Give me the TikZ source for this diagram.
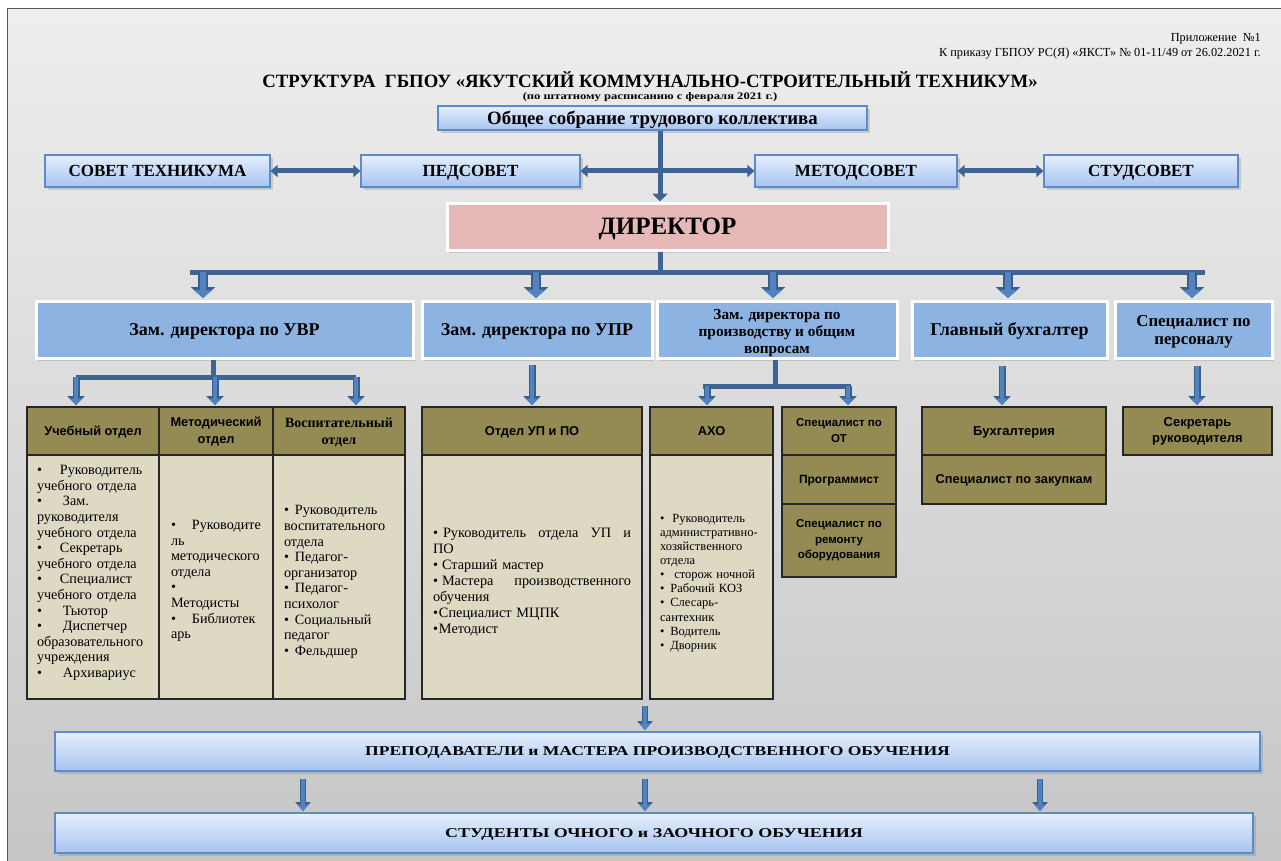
\documentclass[tikz,border=0pt]{standalone}
\usepackage{fontspec}
\setmainfont{Liberation Serif}
\setsansfont{Liberation Sans}
\usetikzlibrary{arrows.meta,shadows,calc}
\newcommand\fz[2]{\fontsize{#1}{#2}\selectfont}
\definecolor{bgtop}{HTML}{EEEEEE}
\definecolor{bgbot}{HTML}{C6C6C6}
\definecolor{arrowc}{HTML}{38608F}
\definecolor{arrowin}{HTML}{5283C0}
\definecolor{busc}{HTML}{3D6494}
\definecolor{lbtop}{HTML}{E6EFFC}
\definecolor{lbbot}{HTML}{A6C4F0}
\definecolor{lbline}{HTML}{5B8BC8}
\definecolor{zamc}{HTML}{8DB3E2}
\definecolor{dirc}{HTML}{E6B8B7}
\definecolor{olive}{HTML}{948A54}
\definecolor{beige}{HTML}{DDD9C3}
\tikzset{
  cc/.style 2 args={text height=#1, text depth=#2},
  lbox/.style={draw=lbline, line width=1.2pt, top color=lbtop, bottom color=lbbot,
    inner sep=0pt, align=center, font=\bfseries\fz{17}{20}, cc={13.6pt}{2.4pt},
    drop shadow={shadow xshift=2.5pt, shadow yshift=-3pt, opacity=.3}},
  zam/.style={draw=white, line width=3pt, fill=zamc, inner sep=0pt, align=center,
    minimum height=57pt, font=\bfseries\fz{18}{20},
    drop shadow={shadow xshift=2pt, shadow yshift=-3pt, opacity=.3}},
  dirbox/.style={draw=white, line width=3pt, fill=dirc, inner sep=0pt, align=center,
    font=\bfseries\fz{25}{28}, cc={20pt}{3.5pt},
    drop shadow={shadow xshift=2pt, shadow yshift=-3pt, opacity=.3}},
  ohead/.style={draw=black!85, line width=1.3pt, fill=olive, inner sep=0pt, align=center,
    font=\sffamily\bfseries\fz{12.8}{17}},
  obody/.style={draw=black!85, line width=1.3pt, fill=beige, inner sep=0pt,
    minimum height=244pt},
  btext/.style={inner sep=0pt, align=left, font=\fz{14.2}{15.6}},
  bus/.style={draw=busc, line width=5pt},
  blk/.style={preaction={draw=arrowc, line width=10pt, -{Triangle[width=24pt,length=11pt]}},
    draw=arrowin, line width=6pt, shorten >=1.5pt, -{Triangle[width=18pt,length=8pt]}},
  blks/.style={preaction={draw=arrowc, line width=7pt, -{Triangle[width=17pt,length=9pt]}},
    draw=arrowin, line width=3.8pt, shorten >=1.3pt, -{Triangle[width=12pt,length=6.5pt]}},
  blkt/.style={preaction={draw=arrowc, line width=6pt, -{Triangle[width=15pt,length=9pt]}},
    draw=arrowin, line width=3.2pt, shorten >=1.3pt, -{Triangle[width=10.5pt,length=6.5pt]}},
  dbl/.style={draw=busc, line width=5pt,
    {Triangle[width=12pt,length=7pt]}-{Triangle[width=12pt,length=7pt]}},
}
\begin{document}
\begin{tikzpicture}[x=1pt,y=-1pt]
\useasboundingbox (0,0) rectangle (1281,861);
\fill[white] (0,0) rectangle (1281,861);
\shade[top color=bgtop, bottom color=bgbot] (7,9) rectangle (1281,861);
\draw[black!65, line width=1pt] (7,861) -- (7,9) -- (1281,9);

% header texts
\node[anchor=east, align=right, inner sep=0pt, font=\fz{12.3}{15}] (app) at (1261,46)
  {Приложение \ №1\\К приказу ГБПОУ РС(Я) «ЯКСТ» № 01-11/49 от 26.02.2021 г.};
\node[inner sep=0pt, font=\bfseries\fz{18.75}{20}] (title) at (650,80)
  {СТРУКТУРА \ ГБПОУ «ЯКУТСКИЙ КОММУНАЛЬНО-СТРОИТЕЛЬНЫЙ ТЕХНИКУМ»};
\node[inner sep=0pt, font=\bfseries\fz{10}{12}] (sub) at (650,97.5)
  {\scalebox{1.26}[1]{(по штатному расписанию с февраля 2021 г.)}};

% top boxes
\node[lbox, minimum width=429pt, minimum height=24pt, font=\bfseries\fz{18.8}{20}, cc={15pt}{2.6pt}] (obsh) at (652.5,118)
  {Общее собрание трудового коллектива};
\node[lbox, minimum width=225pt, minimum height=32pt] (sovet) at (157.5,171) {СОВЕТ ТЕХНИКУМА};
\node[lbox, minimum width=219pt, minimum height=32pt] (ped) at (470.5,171) {ПЕДСОВЕТ};
\node[lbox, minimum width=202pt, minimum height=32pt] (metod) at (856,171) {МЕТОДСОВЕТ};
\node[lbox, minimum width=194pt, minimum height=32pt] (stud) at (1141,171) {СТУДСОВЕТ};

\node[dirbox, minimum width=441pt, minimum height=47pt] (dir) at (667.5,226.5) {ДИРЕКТОР};

\coordinate (trunk) at (660,0);
\draw[dbl] (sovet.east) -- (ped.west);
\draw[dbl] (ped.east) -- (metod.west);
\draw[dbl] (metod.east) -- (stud.west);
\draw[draw=busc, line width=5pt, -{Triangle[width=15pt,length=8pt]}]
  (obsh.south -| trunk) -- (dir.north -| trunk);

% director bus
\coordinate (busL) at (190,272);
\coordinate (busR) at (1205,272);
\draw[bus] (busL) -- (busR);
\draw[bus] (dir.south -| trunk) -- (trunk |- busL);

% deputies
\node[zam, cc={14.4pt}{2.5pt}, minimum width=377pt] (uvr) at (224.5,329.5) {Зам. директора по УВР};
\node[zam, cc={14.4pt}{2.5pt}, minimum width=230pt] (upr) at (537,329.5) {Зам. директора по УПР};
\node[zam, minimum width=240pt, font=\bfseries\fz{15.3}{17}] (proiz) at (777,329.5)
  {\rule{0pt}{16.5pt}Зам. директора по\\производству и общим\\вопросам};
\node[zam, cc={14.4pt}{2.5pt}, minimum width=195pt] (buh) at (1009.5,329.5) {Главный бухгалтер};
\node[zam, minimum width=157pt, font=\bfseries\fz{16.8}{18.5}] (pers) at (1193.5,329.5)
  {\rule{0pt}{16pt}Специалист по\\персоналу};

\coordinate (a1) at (203,272);
\coordinate (a2) at (536,272);
\coordinate (a3) at (773,272);
\coordinate (a4) at (1008,272);
\coordinate (a5) at (1192,272);
\draw[blk] (a1) -- (a1 |- uvr.north);
\draw[blk] (a2) -- (a2 |- upr.north);
\draw[blk] (a3) -- (a3 |- proiz.north);
\draw[blk] (a4) -- (a4 |- buh.north);
\draw[blk] (a5) -- (a5 |- pers.north);

% departments: headers
\node[ohead, cc={10.2pt}{1.8pt}, minimum width=132pt, minimum height=48pt] (ucheb) at (93,431) {Учебный отдел};
\node[ohead, minimum width=114pt, minimum height=48pt] (metodo) at (216,431) {\rule{0pt}{11.5pt}Методический\\отдел};
\node[ohead, minimum width=132pt, minimum height=48pt, font=\bfseries\fz{14}{17}] (vosp) at (339,431)
  {\rule{0pt}{11.5pt}Воспитательный\\отдел};
\node[ohead, cc={10.2pt}{1.8pt}, minimum width=220pt, minimum height=48pt] (upo) at (532,431) {Отдел УП и ПО};
\node[ohead, cc={10.2pt}{1.8pt}, minimum width=123pt, minimum height=48pt] (axo) at (711.5,431) {АХО};
\node[ohead, minimum width=114pt, minimum height=48pt, font=\sffamily\bfseries\fz{11.5}{16}] (ot) at (839,431)
  {Специалист по\\ОТ};
\node[ohead, cc={9.6pt}{1.7pt}, minimum width=114pt, minimum height=49pt, font=\sffamily\bfseries\fz{12}{15}] (prog) at (839,479.5)
  {Программист};
\node[ohead, minimum width=114pt, minimum height=73pt, font=\sffamily\bfseries\fz{11.5}{15.5}] (rem) at (839,540.5)
  {Специалист по\\ремонту\\оборудования};
\node[ohead, cc={10.4pt}{1.8pt}, minimum width=184pt, minimum height=48pt, font=\sffamily\bfseries\fz{13}{15}] (buhg) at (1014,431)
  {Бухгалтерия};
\node[ohead, cc={10.2pt}{1.8pt}, minimum width=184pt, minimum height=49pt] (zak) at (1014,479.5) {Специалист по закупкам};
\node[ohead, minimum width=149pt, minimum height=48pt, font=\sffamily\bfseries\fz{13}{16}] (sekr) at (1197.5,431)
  {Секретарь\\руководителя};

% departments: bodies
\node[obody, minimum width=132pt] (uchebb) at (93,577) {};
\node[obody, minimum width=114pt] (metodob) at (216,577) {};
\node[obody, minimum width=132pt] (vospb) at (339,577) {};
\node[obody, minimum width=220pt] (upob) at (532,577) {};
\node[obody, minimum width=123pt] (axob) at (711.5,577) {};

\node[btext, text width=114pt] (ucht) at (94,573)
  {\textbullet\hspace{18pt}Руководитель\\
   учебного отдела\\
   \textbullet\hspace{21pt}Зам.\\
   руководителя\\
   учебного отдела\\
   \textbullet\hspace{18pt}Секретарь\\
   учебного отдела\\
   \textbullet\hspace{18pt}Специалист\\
   учебного отдела\\
   \textbullet\hspace{21pt}Тьютор\\
   \textbullet\hspace{21pt}Диспетчер\\
   образовательного\\
   учреждения\\
   \textbullet\hspace{21pt}Архивариус};
\node[btext, text width=98pt] (metodt) at (220,581)
  {\textbullet\hspace{16pt}Руководите\\
   ль\\
   методического\\
   отдела\\
   \textbullet\\
   Методисты\\
   \textbullet\hspace{16pt}Библиотек\\
   арь};
\node[btext, text width=110pt] (vospt) at (339,582)
  {\textbullet\hspace{6pt}Руководитель\\
   воспитательного\\
   отдела\\
   \textbullet\hspace{6pt}Педагог-\\
   организатор\\
   \textbullet\hspace{6pt}Педагог-\\
   психолог\\
   \textbullet\hspace{6pt}Социальный\\
   педагог\\
   \textbullet\hspace{6pt}Фельдшер};
\node[btext, text width=198pt, font=\fz{14.3}{16}] (upot) at (532,582)
  {\textbullet\hspace{5pt}Руководитель\hfill отдела\hfill УП\hfill и\\
   ПО\\
   \textbullet\hspace{4pt}Старший мастер\\
   \textbullet\hspace{4pt}Мастера\hfill производственного\\
   обучения\\
   \textbullet\hspace{1pt}Специалист МЦПК\\
   \textbullet\hspace{1pt}Методист};
\node[btext, text width=103pt, font=\fz{12.5}{14.1}] (axot) at (711.5,583)
  {\textbullet\hspace{8pt}Руководитель\\
   административно-\\
   хозяйственного\\
   отдела\\
   \textbullet\hspace{10pt}сторож ночной\\
   \textbullet\hspace{6pt}Рабочий КОЗ\\
   \textbullet\hspace{6pt}Слесарь-\\
   сантехник\\
   \textbullet\hspace{6pt}Водитель\\
   \textbullet\hspace{6pt}Дворник};

% connectors to departments
\coordinate (b1) at (76,377);
\coordinate (b2) at (215,377);
\coordinate (b3) at (356,377);
\coordinate (bu) at (213,0);
\draw[bus] (b1) -- (b3);
\draw[bus] (uvr.south -| bu) -- (bu |- b1);
\draw[blks] (b1) -- (b1 |- ucheb.north);
\draw[blks] (b2) -- (b2 |- metodo.north);
\draw[blks] (b3) -- (b3 |- vosp.north);

\coordinate (c1) at (532,0);
\draw[blks, shorten <=5pt] (upr.south -| c1) -- (upo.north -| c1);

\coordinate (d1) at (703,386);
\coordinate (d2) at (851,386);
\coordinate (dt) at (775,0);
\coordinate (e1) at (707,386);
\coordinate (e2) at (848,386);
\draw[bus] (d1) -- (d2);
\draw[bus] (proiz.south -| dt) -- (dt |- d1);
\draw[blks] (e1) -- (e1 |- axo.north);
\draw[blks] (e2) -- (e2 |- ot.north);

\coordinate (f1) at (1002,0);
\draw[blks, shorten <=6pt] (buh.south -| f1) -- (buhg.north -| f1);
\coordinate (g1) at (1197,0);
\draw[blks, shorten <=6pt] (pers.south -| g1) -- (sekr.north -| g1);

% bottom
\node[lbox, minimum width=1205pt, minimum height=39pt, font=\bfseries\fz{13.5}{16}, cc={10.8pt}{1.9pt}] (prep) at (657.5,751.5)
  {\scalebox{1.3}[1]{ПРЕПОДАВАТЕЛИ и МАСТЕРА ПРОИЗВОДСТВЕННОГО ОБУЧЕНИЯ}};
\node[lbox, minimum width=1198pt, minimum height=40pt, font=\bfseries\fz{13.5}{16}, cc={10.8pt}{1.9pt}] (stud2) at (654,833)
  {\scalebox{1.33}[1]{СТУДЕНТЫ ОЧНОГО и ЗАОЧНОГО ОБУЧЕНИЯ}};

\coordinate (p0) at (645,706);
\draw[blkt] (p0) -- (p0 |- prep.north);
\coordinate (q1) at (303,0);
\coordinate (q2) at (645,0);
\coordinate (q3) at (1040,0);
\draw[blkt, shorten <=7pt] (prep.south -| q1) -- (stud2.north -| q1);
\draw[blkt, shorten <=7pt] (prep.south -| q2) -- (stud2.north -| q2);
\draw[blkt, shorten <=7pt] (prep.south -| q3) -- (stud2.north -| q3);
\end{tikzpicture}
\end{document}
